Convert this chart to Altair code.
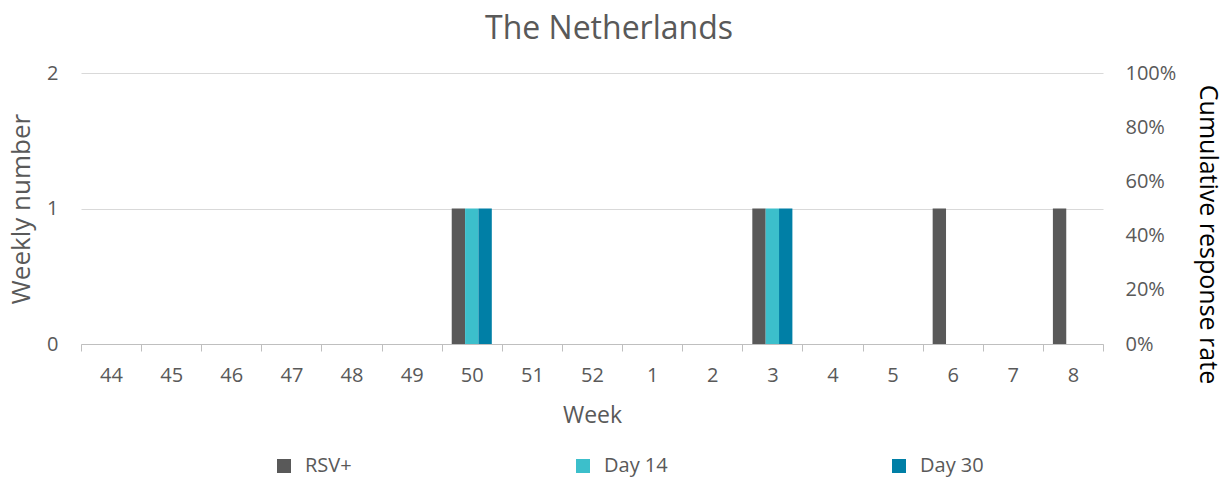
import altair as alt
import pandas as pd

# Weekly counts per series (season weeks 44 .. 8)
weeks = ["44", "45", "46", "47", "48", "49", "50", "51", "52",
         "1", "2", "3", "4", "5", "6", "7", "8"]
rsv_pos = [0, 0, 0, 0, 0, 0, 1, 0, 0, 0, 0, 1, 0, 0, 1, 0, 1]
day_14 = [0, 0, 0, 0, 0, 0, 1, 0, 0, 0, 0, 1, 0, 0, 0, 0, 0]
day_30 = [0, 0, 0, 0, 0, 0, 1, 0, 0, 0, 0, 1, 0, 0, 0, 0, 0]

series = ["RSV+", "Day 14", "Day 30"]
colors = ["#595959", "#3CBFCB", "#007FA6"]
rate_ticks = [0, 0.2, 0.4, 0.6, 0.8, 1.0]

rows = []
for name, vals in zip(series, [rsv_pos, day_14, day_30]):
    for w, v in zip(weeks, vals):
        rows.append({"week": w, "series": name, "count": v})
bars_df = pd.DataFrame(rows)
rate_df = pd.DataFrame({"rate": [0.0, 1.0]})

FONT = "Open Sans"
GREY = "#595959"

bars = alt.Chart(bars_df).mark_bar().encode(
    x=alt.X(
        "week:N",
        sort=weeks,
        scale=alt.Scale(paddingInner=0, paddingOuter=0),
        axis=alt.Axis(
            title="Week",
            labelAngle=0,
            labelFontSize=20,
            labelColor=GREY,
            labelBaseline="middle",
            labelPadding=24,
            tickBand="extent",
            tickSize=7,
            tickColor="#BFBFBF",
            domainColor="#BFBFBF",
            titleFontSize=23,
            titleFontWeight="normal",
            titleColor=GREY,
            titlePadding=19,
            zindex=1,
        ),
    ),
    xOffset=alt.XOffset(
        "series:N",
        sort=series,
        scale=alt.Scale(paddingInner=0, paddingOuter=0.75),
    ),
    y=alt.Y(
        "count:Q",
        scale=alt.Scale(domain=[0, 2], nice=False),
        axis=alt.Axis(
            tickCount=2,
            format="d",
            title="Weekly number",
            grid=True,
            gridColor="#D9D9D9",
            domain=False,
            ticks=False,
            labelOverlap=False,
            labelPadding=23,
            labelFontSize=20,
            labelColor=GREY,
            titleFontSize=26,
            titleFontWeight="normal",
            titleColor=GREY,
            titleAngle=-90,
            titleAlign="center",
            titleBaseline="middle",
            titleX=-60,
            titleY=135.5,
        ),
    ),
    color=alt.Color(
        "series:N",
        sort=series,
        scale=alt.Scale(domain=series, range=colors),
        legend=alt.Legend(
            title=None,
            orient="none",
            direction="horizontal",
            legendX=193,
            legendY=383,
            symbolType="square",
            symbolSize=196,
            symbolStrokeWidth=0,
            labelOffset=11,
            columnPadding=221,
            labelFontSize=20,
            labelColor=GREY,
            labelFont=FONT,
            padding=0,
        ),
    ),
)

# secondary scale for the cumulative response rate axis
rate_axis = alt.Chart(rate_df).mark_point(opacity=0).encode(
    y=alt.Y(
        "rate:Q",
        scale=alt.Scale(domain=[0, 1]),
        axis=alt.Axis(
            orient="right",
            values=rate_ticks,
            format=".0%",
            grid=False,
            domain=False,
            ticks=False,
            labelPadding=22,
            labelFontSize=20,
            labelColor=GREY,
            title="Cumulative response rate",
            titleFontSize=25,
            titleFontWeight="normal",
            titleColor="#000000",
            titleAngle=90,
            titleAlign="center",
            titleBaseline="middle",
            titleX=104,
            titleY=161,
        ),
    ),
)

chart = (
    alt.layer(bars, rate_axis)
    .resolve_scale(y="independent")
    .properties(
        width=1022,
        height=271,
        autosize=alt.AutoSizeParams(type="none"),
        padding={"left": 81, "top": 73, "right": 123, "bottom": 134},
        title=alt.TitleParams(
            "The Netherlands",
            font=FONT,
            fontSize=32,
            fontWeight="normal",
            color=GREY,
            anchor="middle",
            baseline="alphabetic",
            dx=17,
            dy=42,
            offset=34,
        ),
    )
    .configure(font=FONT)
    .configure_view(stroke=None)
)

chart.save("out.html", embed_options={"renderer": "svg", "actions": False})
